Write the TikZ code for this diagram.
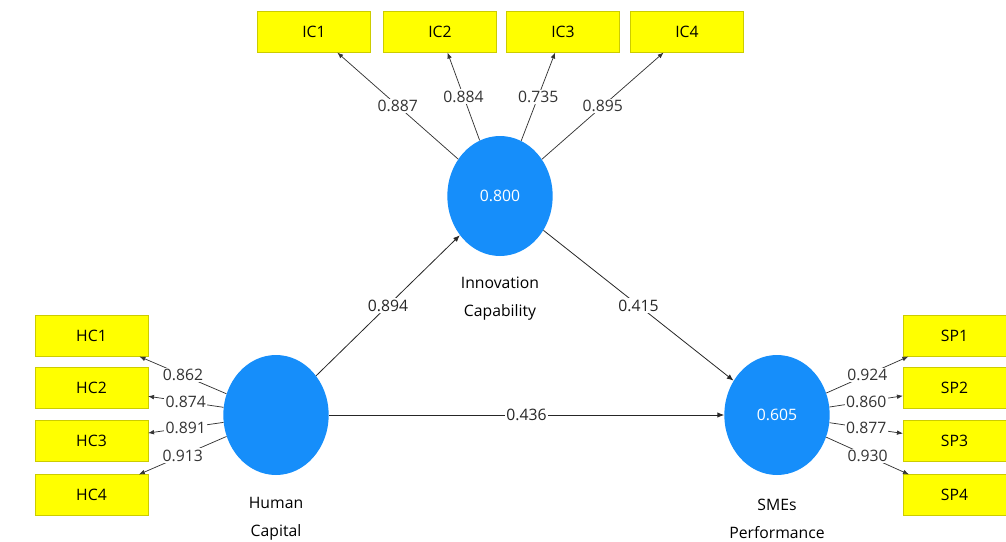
\documentclass[tikz,border=0pt]{standalone}
\usepackage{fontspec}
\setmainfont{Open Sans}
\usetikzlibrary{arrows.meta,shapes.geometric}
\definecolor{latentblue}{RGB}{22,142,250}
\definecolor{itemyellow}{RGB}{255,255,0}
\tikzset{construct/.style={ellipse,fill=latentblue,minimum width=79pt,minimum height=90pt,
  inner sep=0pt,text=white},
 indicator/.style={rectangle,fill=itemyellow,draw=itemyellow!80!black,line width=0.3pt,
  minimum width=84.5pt,minimum height=30.5pt,inner sep=0pt},
 loading/.style={-{Latex[length=4.5pt,width=3.5pt]},black!80,line width=0.55pt},
 path/.style={-{Latex[length=5pt,width=4pt]},black!85,line width=0.6pt},
 coef/.style={midway,fill=white,inner sep=1pt},
 every node/.style={font=\fontsize{11.8}{21}\selectfont}}

\begin{document}
\begin{tikzpicture}[x=0.75pt,y=-0.75pt]
\useasboundingbox (0,0) rectangle (1006,542);
% latent variables
\node[construct] (ic) at (500,196) {0.800};
\node[construct] (hc) at (276,415) {};
\node[construct] (sp) at (777,415) {0.605};
\node[align=center] (iclab) at (500,299) {Innovation\\Capability};
\node[align=center] (hclab) at (276,519) {Human\\Capital};
\node[align=center] (splab) at (777,519) {SMEs\\Performance};
% indicators
\foreach \i/\x in {1/314,2/440,3/563,4/687}
  \node[indicator] (ic\i) at (\x,32) {IC\i};
\foreach \i/\y in {1/336,2/388,3/441,4/495}
  \node[indicator] (hc\i) at (91.5,\y) {HC\i};
\foreach \i/\y in {1/336,2/388,3/441,4/495}
  \node[indicator,minimum width=77pt] (sp\i) at (954.5,\y) {SP\i};
% outer loadings
\draw[loading] (ic) -- (ic1) node[coef] {0.887};
\draw[loading] (ic) -- (ic2) node[coef] {0.884};
\draw[loading] (ic) -- (ic3) node[coef] {0.735};
\draw[loading] (ic) -- (ic4) node[coef] {0.895};
\draw[loading] (hc) -- (hc1) node[coef] {0.862};
\draw[loading] (hc) -- (hc2) node[coef] {0.874};
\draw[loading] (hc) -- (hc3) node[coef] {0.891};
\draw[loading] (hc) -- (hc4) node[coef] {0.913};
\draw[loading] (sp) -- (sp1) node[coef] {0.924};
\draw[loading] (sp) -- (sp2) node[coef] {0.860};
\draw[loading] (sp) -- (sp3) node[coef] {0.877};
\draw[loading] (sp) -- (sp4) node[coef] {0.930};
% path coefficients
\draw[path] (hc) -- (ic) node[coef] {0.894};
\draw[path] (ic) -- (sp) node[coef] {0.415};
\draw[path] (hc) -- (sp) node[coef] {0.436};
\end{tikzpicture}
\end{document}
